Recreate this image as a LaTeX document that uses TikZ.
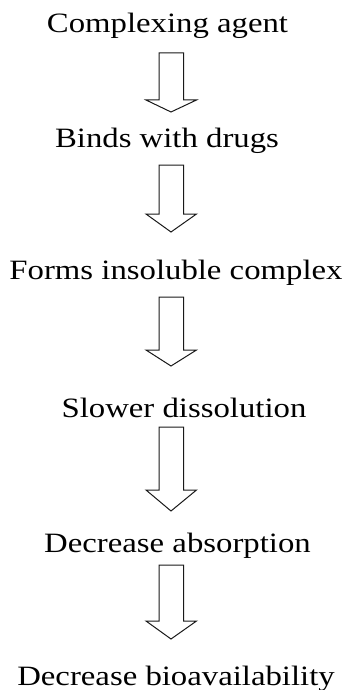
\documentclass[tikz,border=0pt]{standalone}
\usepackage{fontspec}
\setmainfont{Liberation Serif}
\begin{document}
\begin{tikzpicture}[x=1pt,y=-1pt,
  lbl/.style={anchor=base,inner sep=0pt,font=\fontsize{28}{30}\selectfont,xscale=1.17},
  barrow/.style={draw=black!90,line width=1pt,fill=white,line join=miter}]
\useasboundingbox (0,0) rectangle (350,690);
\node[lbl] (t1) at (167.5,33) {Complexing agent};
\node[lbl] (t2) at (167,147) {Binds with drugs};
\node[lbl] (t3) at (176,279) {Forms insoluble complex};
\node[lbl] (t4) at (184,417) {Slower dissolution};
\node[lbl] (t5) at (177.5,552) {Decrease absorption};
\node[lbl] (t6) at (176,685) {Decrease bioavailability};
\newcommand\blockarr[3]{%
  \draw[barrow] (159,#1) -- (159,#2) -- (146,#2) -- (171,#3) -- (196.5,#2) -- (183.5,#2) -- (183.5,#1) -- cycle;}
\blockarr{53}{100}{112}
\blockarr{165}{214}{232}
\blockarr{297}{350}{366}
\blockarr{427}{490}{511}
\blockarr{565}{621}{639}
\end{tikzpicture}
\end{document}
